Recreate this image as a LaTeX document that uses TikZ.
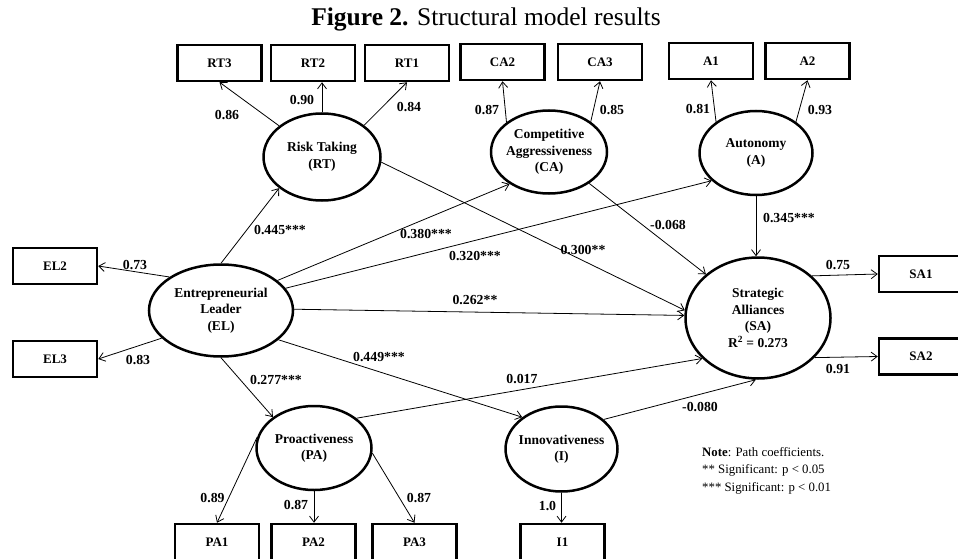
\documentclass[tikz,border=0pt]{standalone}
\usepackage{fontspec}
\setmainfont{Liberation Serif}
\usepackage{tikz}
\usetikzlibrary{shapes.geometric,arrows.meta}

\begin{document}
\begin{tikzpicture}[x=1pt,y=-1pt,
  latent/.style={ellipse, draw, line width=2.5pt, inner sep=-10pt, align=center,
    font=\fontsize{13.5}{16.5}\selectfont\bfseries},
  indicator/.style={draw, line width=2.5pt, minimum width=84pt, minimum height=36pt,
    font=\fontsize{13}{16}\selectfont\bfseries},
  link/.style={->, line width=0.8pt},
  coef/.style={font=\fontsize{13.8}{16}\selectfont\bfseries, inner sep=1pt},
  >={Straight Barb[length=6pt,width=9pt]}]

  \useasboundingbox (0,0) rectangle (958,559);

  % Titolo
  \node[anchor=base] (title) at (486,26)
    {\fontsize{25.5}{30}\selectfont\textbf{Figure 2.} Structural model results};

  % Variabili latenti
  \node[latent, minimum width=117pt, minimum height=87pt] (RT) at (322,157) {Risk Taking\\(RT)};
  \node[latent, minimum width=116pt, minimum height=83pt] (CA) at (549,152) {Competitive\\Aggressiveness\\(CA)};
  \node[latent, minimum width=113pt, minimum height=84pt] (A) at (756,153) {Autonomy\\(A)};
  \node[latent, minimum width=144pt, minimum height=92pt] (EL) at (221,310.5) {Entrepreneurial\\Leader\\(EL)};
  \node[latent, minimum width=145pt, minimum height=121pt] (SA) at (758,318) {Strategic\\Alliances\\(SA)\\R\textsuperscript{2} = 0.273};
  \node[latent, minimum width=115pt, minimum height=84pt] (PA) at (314,448) {Proactiveness\\(PA)};
  \node[latent, minimum width=112pt, minimum height=85pt] (I) at (561.5,449) {Innovativeness\\(I)};

  % Indicatori
  \foreach \n/\x/\y in {RT3/219.5/63, RT2/313/63, RT1/407/63, CA2/502.5/62, CA3/600/62,
                        A1/711/61, A2/807.5/61, EL2/55/266, EL3/55/359, SA1/921/274,
                        SA2/921/356.5, PA1/217/542, PA2/313.5/542, PA3/414.5/542, I1/562.5/542}
    \node[indicator] (\n) at (\x,\y) {\n};

  % Frecce
  \foreach \a/\b in {RT.144/RT3.south, RT.37/RT1.south, CA.145/CA2.south, CA.36/CA3.south,
                     A.142/A1.south, A.38/A2.south, EL.147/EL2.east, EL.205/EL3.east,
                     PA.169/PA1.north, PA.-5/PA3.north, EL.north/RT.216, EL.28/CA.219,
                     EL.19/A.212, EL.1/SA.178, RT.-5/SA.174, CA.-38/SA.140,
                     EL.south/PA.143, EL.-27/I.141, PA.35/SA.216, I.35/SA.268,
                     SA.38/SA1.west, SA.-35/SA2.west}
    \draw[link] (\a) -- (\b);
  \draw[link] (RT.north) -- (RT.north |- RT2.south);
  \draw[link] (A.south) -- (A.south |- SA.north);
  \draw[link] (PA.south) -- (PA.south |- PA2.north);
  \draw[link] (I.south) -- (I.south |- I1.north);

  % Coefficienti
  \foreach \x/\y/\t [count=\i] in {227/115/0.86, 302/100/0.90, 409/107/0.84, 487/110/0.87,
      612/110/0.85, 698/109/0.81, 820/110/0.93, 280/230/0.445***, 426/234/0.380***,
      475/256/0.320***, 475/300/0.262**, 583/250/0.300**, 668/225/-0.068, 789/218/0.345***,
      838/265/0.75, 838/369/0.91, 135/265/0.73, 138/360/0.83, 276/380/0.277***,
      379/357/0.449***, 522/379/0.017, 700/407/-0.080, 212.5/498/0.89, 296/505/0.87,
      419/498/0.87, 547.5/506/1.0}
    \node[coef] (c\i) at (\x,\y) {\t};

  % Nota
  \node[anchor=north west, align=left, inner sep=0pt,
        font=\fontsize{12.8}{17.5}\selectfont] (note) at (702,447)
    {\textbf{Note}: Path coefficients.\\** Significant: p < 0.05\\*** Significant: p < 0.01};
\end{tikzpicture}
\end{document}
